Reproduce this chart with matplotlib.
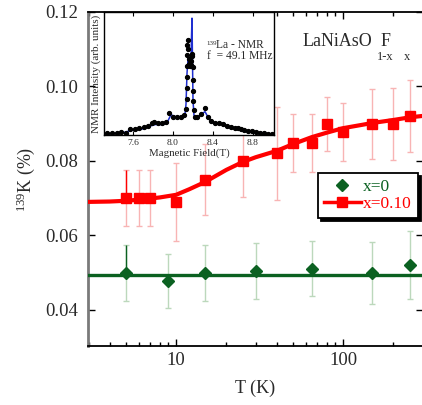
import matplotlib
matplotlib.use('Agg')
import matplotlib.pyplot as plt
from matplotlib.lines import Line2D
from matplotlib.ticker import FixedLocator, LogLocator, NullFormatter, FixedFormatter

plt.rcParams['font.family'] = ['Liberation Serif', 'DejaVu Serif']
plt.rcParams['mathtext.fontset'] = 'custom'
plt.rcParams['mathtext.rm'] = 'Liberation Serif'
plt.rcParams['mathtext.it'] = 'Liberation Serif:italic'

# ---------------- data ----------------
# x = 0 sample
T_x0 = [5, 9, 15, 30, 65, 150, 250]
K_x0 = [0.0499, 0.0478, 0.0499, 0.0505, 0.0510, 0.0499, 0.0521]
err_x0 = [0.0074, 0.0073, 0.0074, 0.0075, 0.0074, 0.0083, 0.0092]
fit_x0 = 0.0494

# x = 0.10 sample
T_x10 = [5, 6, 7, 10, 15, 25, 40, 50, 65, 80, 100, 150, 200, 250]
K_x10 = [0.0700, 0.0700, 0.0700, 0.0690, 0.0750, 0.0800, 0.0820, 0.0848,
         0.0848, 0.0900, 0.0878, 0.0900, 0.0900, 0.0920]
err_x10 = [0.0075, 0.0075, 0.0075, 0.0105, 0.0095, 0.0096, 0.0126, 0.0078,
           0.0078, 0.0072, 0.0078, 0.0094, 0.0097, 0.0097]

# fit curve for x = 0.10
fitT_x10 = [2.97, 4, 5, 6, 7, 8, 10, 12, 15, 20, 25, 30, 40, 50, 65, 80,
            100, 130, 150, 200, 250, 301]
fitK_x10 = [0.0690, 0.0691, 0.0693, 0.0696, 0.0699, 0.0702, 0.0709, 0.0724,
            0.0744, 0.0776, 0.0797, 0.0810, 0.0827, 0.0845, 0.0864, 0.0876,
            0.0888, 0.0897, 0.0902, 0.0910, 0.0917, 0.0921]

# inset: 139La NMR spectrum (arb. units)
B_dots = [7.34, 7.39, 7.44, 7.48, 7.53, 7.57, 7.62, 7.66, 7.71, 7.75, 7.79,
          7.81, 7.85, 7.89, 7.93, 7.96, 8.00, 8.04, 8.08, 8.11, 8.13, 8.135,
          8.137, 8.138, 8.14, 8.14, 8.142, 8.145, 8.15, 8.155, 8.16, 8.165,
          8.17, 8.175, 8.18, 8.185, 8.19, 8.195, 8.197, 8.20, 8.202, 8.205,
          8.215, 8.24, 8.28, 8.32, 8.35, 8.38, 8.42, 8.46, 8.50, 8.54, 8.58,
          8.62, 8.65, 8.68, 8.71, 8.75, 8.79, 8.83, 8.87, 8.91, 8.95, 8.99]
I_dots = [0.014, 0.014, 0.016, 0.022, 0.020, 0.045, 0.050, 0.053, 0.062,
          0.075, 0.100, 0.108, 0.100, 0.100, 0.105, 0.175, 0.150, 0.148,
          0.150, 0.160, 0.21, 0.29, 0.38, 0.47, 0.56, 0.65, 0.73, 0.77, 0.70,
          0.62, 0.58, 0.56, 0.58, 0.57, 0.60, 0.64, 0.66, 0.55, 0.45, 0.36,
          0.28, 0.20, 0.15, 0.145, 0.17, 0.22, 0.15, 0.11, 0.100, 0.100,
          0.090, 0.075, 0.065, 0.055, 0.060, 0.050, 0.040, 0.033, 0.030,
          0.022, 0.016, 0.014, 0.012, 0.010]
B_line = [7.31, 7.40, 7.50, 7.55, 7.60, 7.70, 7.78, 7.82, 7.90, 7.94, 7.98,
          8.02, 8.06, 8.10, 8.12, 8.13, 8.14, 8.15, 8.16, 8.17, 8.18, 8.185,
          8.19, 8.195, 8.20, 8.21, 8.23, 8.27, 8.32, 8.36, 8.40, 8.48, 8.55,
          8.62, 8.66, 8.72, 8.80, 8.90, 9.01]
I_line = [0.008, 0.012, 0.018, 0.030, 0.040, 0.050, 0.075, 0.085, 0.085,
          0.100, 0.165, 0.150, 0.140, 0.145, 0.17, 0.25, 0.50, 0.62, 0.58,
          0.55, 0.60, 0.80, 0.95, 0.60, 0.28, 0.16, 0.13, 0.16, 0.19, 0.13,
          0.10, 0.090, 0.065, 0.050, 0.050, 0.030, 0.020, 0.012, 0.008]

inset_ticks = [7.6, 8.0, 8.4, 8.8]
y_ticks = [0.04, 0.06, 0.08, 0.10, 0.12]
x_ticks = [10, 100]
x_ticklabels = ['10', '100']

# ---------------- styling ----------------
GREEN = '#0b6121'
GREEN_LIGHT = '#bcd8bc'
RED = '#ff0000'
RED_LIGHT = '#f8b4b4'
TXT = '#2a2a2a'
W, H = 422, 405

fig = plt.figure(figsize=(W / 100, H / 100), dpi=100)
ax = fig.add_axes([88 / W, 1 - 346 / H, (423 - 88) / W, (346 - 12) / H])

# error bars (light)
ax.errorbar(T_x0, K_x0, yerr=err_x0, fmt='none', ecolor=GREEN_LIGHT,
            elinewidth=1.0, capsize=2.2, capthick=1.0, zorder=2)
ax.errorbar(T_x10, K_x10, yerr=err_x10, fmt='none', ecolor=RED_LIGHT,
            elinewidth=1.0, capsize=2.2, capthick=1.0, zorder=2)
# darker upper halves of the first bars
ax.errorbar(T_x0[:1], K_x0[:1], yerr=[[0], err_x0[:1]], fmt='none',
            ecolor=GREEN, elinewidth=1.0, capsize=0, zorder=2.1)
ax.errorbar(T_x10[:1], K_x10[:1], yerr=[[0], err_x10[:1]], fmt='none',
            ecolor=RED, elinewidth=1.0, capsize=0, zorder=2.1)

# fits
ax.axhline(fit_x0, color=GREEN, lw=2.4, zorder=3)
ax.plot(fitT_x10, fitK_x10, color=RED, lw=3.0, zorder=3,
        solid_capstyle='butt')

# markers
ax.plot(T_x0, K_x0, ls='none', marker='D', ms=6.2, color=GREEN,
        mec=GREEN, zorder=4)
ax.plot(T_x10, K_x10, ls='none', marker='s', ms=7.3, color=RED,
        mec=RED, zorder=4)

ax.set_xscale('log')
ax.set_xlim(2.97, 301)
ax.set_ylim(0.0303, 0.12)
ax.yaxis.set_major_locator(FixedLocator(y_ticks))
ax.yaxis.set_major_formatter(FixedFormatter(['%.2f' % v for v in y_ticks]))
ax.xaxis.set_major_locator(FixedLocator(x_ticks))
ax.xaxis.set_major_formatter(FixedFormatter(x_ticklabels))
ax.xaxis.set_minor_locator(LogLocator(base=10, subs=range(2, 10)))
ax.xaxis.set_minor_formatter(NullFormatter())
ax.tick_params(which='both', direction='in', top=True, right=True,
               colors='black', labelcolor=TXT, labelsize=13.5)
ax.tick_params(which='major', length=5, width=1.0)
ax.tick_params(which='minor', length=3, width=1.0)
ax.tick_params(axis='y', pad=7)
ax.tick_params(axis='x', pad=4)

for s in ['top', 'bottom', 'right']:
    ax.spines[s].set_linewidth(1.3)
    ax.spines[s].set_color('black')
ax.spines['left'].set_linewidth(2.0)
ax.spines['left'].set_color('#7a7a7a')

ax.set_xlabel('T (K)', fontsize=13, color=TXT, labelpad=8)
ax.set_ylabel(r'$^{139}$K (%)', fontsize=13, color=TXT, labelpad=6)

# legend
handles = [Line2D([], [], ls='none', marker='D', ms=6.2, color=GREEN),
           Line2D([], [], ls='-', lw=2.5, marker='s', ms=7.3, color=RED)]
leg = ax.legend(handles, ['x=0', 'x=0.10'], loc='upper left',
                bbox_to_anchor=((318 - 88) / 335, 1 - (173 - 12) / 334),
                borderaxespad=0, frameon=True, fancybox=False,
                edgecolor='black', framealpha=1, fontsize=12.5,
                labelcolor=[GREEN, RED], handlelength=2.1,
                handletextpad=0.15, labelspacing=0.05, borderpad=0.35,
                shadow={'facecolor': 'black', 'edgecolor': 'black',
                        'alpha': 1.0})
leg.get_frame().set_linewidth(1.3)
leg.set_zorder(10)

# compound label
def ftext(x, y, s, size, **kw):
    fig.text(x / W, 1 - y / H, s, fontsize=size, va='baseline',
             color=TXT, **kw)

ftext(303, 46, 'LaNiAsO', 13)
ftext(377, 60, '1-x', 9)
ftext(381, 46, 'F', 13)
ftext(404, 60, 'x', 9)

# inset
ins = fig.add_axes([104 / W, 1 - 135 / H, (274 - 104) / W, (135 - 12) / H])
ins.set_facecolor('white')
ins.plot(B_line, I_line, color='#1f2fd0', lw=1.1, zorder=2)
ins.plot(B_dots, I_dots, ls='none', marker='o', ms=2.8, color='black',
         zorder=3)
ins.set_xlim(7.31, 9.01)
ins.set_ylim(0, 1.0)
ins.xaxis.set_major_locator(FixedLocator(inset_ticks))
ins.xaxis.set_major_formatter(FixedFormatter(['%.1f' % v for v in inset_ticks]))
ins.set_yticks([])
ins.tick_params(axis='x', direction='in', top=True, length=3, width=0.8,
                labelsize=6.8, labelcolor=TXT, pad=3)
for s in ins.spines.values():
    s.set_linewidth(1.0)
    s.set_color('black')
ins.set_xlabel('Magnetic Field(T)', fontsize=7.8, color=TXT, labelpad=1)
ins.set_ylabel('NMR Intensity (arb. units)', fontsize=8, color=TXT,
               labelpad=2)

ftext(206, 45, '139', 5)
ftext(216, 48, 'La - NMR', 8.3)
ftext(207, 59, 'f  = 49.1 MHz', 8.3)

fig.savefig('out.png', dpi=100)
